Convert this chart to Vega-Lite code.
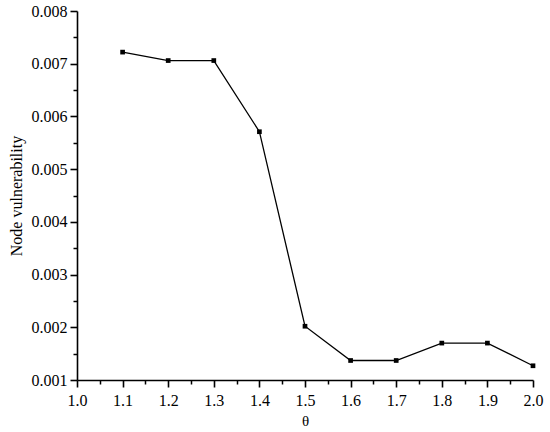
{
  "$schema": "https://vega.github.io/schema/vega-lite/v6.json",
  "width": 456,
  "height": 369,
  "autosize": "none",
  "padding": {"left": 77, "top": 11, "right": 17, "bottom": 52},
  "background": "white",
  "config": {
    "view": {"stroke": null},
    "font": "Liberation Serif"
  },
  "data": {
    "values": [
      {"theta": 1.1, "v": 0.00722},
      {"theta": 1.2, "v": 0.00706},
      {"theta": 1.3, "v": 0.00706},
      {"theta": 1.4, "v": 0.00571},
      {"theta": 1.5, "v": 0.00202},
      {"theta": 1.6, "v": 0.00137},
      {"theta": 1.7, "v": 0.00137},
      {"theta": 1.8, "v": 0.0017},
      {"theta": 1.9, "v": 0.0017},
      {"theta": 2.0, "v": 0.00127}
    ]
  },
  "resolve": {"axis": {"x": "independent", "y": "independent"}},
  "layer": [
    {
      "mark": {"type": "line", "color": "black", "strokeWidth": 1.3},
      "encoding": {
        "x": {
          "field": "theta", "type": "quantitative",
          "scale": {"domain": [1.0, 2.0], "nice": false, "zero": false},
          "axis": {
            "orient": "bottom",
            "values": [1.0, 1.1, 1.2, 1.3, 1.4, 1.5, 1.6, 1.7, 1.8, 1.9, 2.0],
            "format": ".1f", "grid": false, "domainColor": "black", "domainWidth": 1.6,
            "ticks": true, "tickColor": "black", "tickWidth": 1.6, "tickSize": 7, "labelFlush": false,
            "labelFontSize": 16, "labelColor": "black", "labelPadding": 5, "labelFont": "Liberation Serif",
            "title": "θ", "titleFontSize": 15, "titleFontWeight": "normal", "titleColor": "black", "titlePadding": 5, "titleFont": "Liberation Serif"
          }
        },
        "y": {
          "field": "v", "type": "quantitative",
          "scale": {"domain": [0.001, 0.008], "nice": false, "zero": false},
          "axis": {
            "orient": "left",
            "values": [0.001, 0.002, 0.003, 0.004, 0.005, 0.006, 0.007, 0.008],
            "format": ".3f", "grid": false, "domainColor": "black", "domainWidth": 1.6, "labelFlush": false,
            "ticks": true, "tickColor": "black", "tickWidth": 1.6, "tickSize": 7,
            "labelFontSize": 16, "labelColor": "black", "labelPadding": 3, "labelFont": "Liberation Serif",
            "title": "Node vulnerability", "titleFontSize": 16, "titleFontWeight": "normal", "titleColor": "black", "titlePadding": 7, "titleFont": "Liberation Serif"
          }
        }
      }
    },
    {
      "mark": {"type": "square", "color": "black", "opacity": 1, "size": 22, "filled": true},
      "encoding": {
        "x": {
          "field": "theta", "type": "quantitative",
          "axis": {
            "orient": "bottom",
            "values": [1.05, 1.15, 1.25, 1.35, 1.45, 1.55, 1.65, 1.75, 1.85, 1.95],
            "labels": false, "domain": false, "grid": false, "title": null,
            "tickColor": "black", "tickWidth": 1.5, "tickSize": 4
          }
        },
        "y": {
          "field": "v", "type": "quantitative",
          "axis": {
            "orient": "left",
            "values": [0.0015, 0.0025, 0.0035, 0.0045, 0.0055, 0.0065, 0.0075],
            "labels": false, "domain": false, "grid": false, "title": null,
            "tickColor": "black", "tickWidth": 1.5, "tickSize": 4
          }
        }
      }
    }
  ]
}
